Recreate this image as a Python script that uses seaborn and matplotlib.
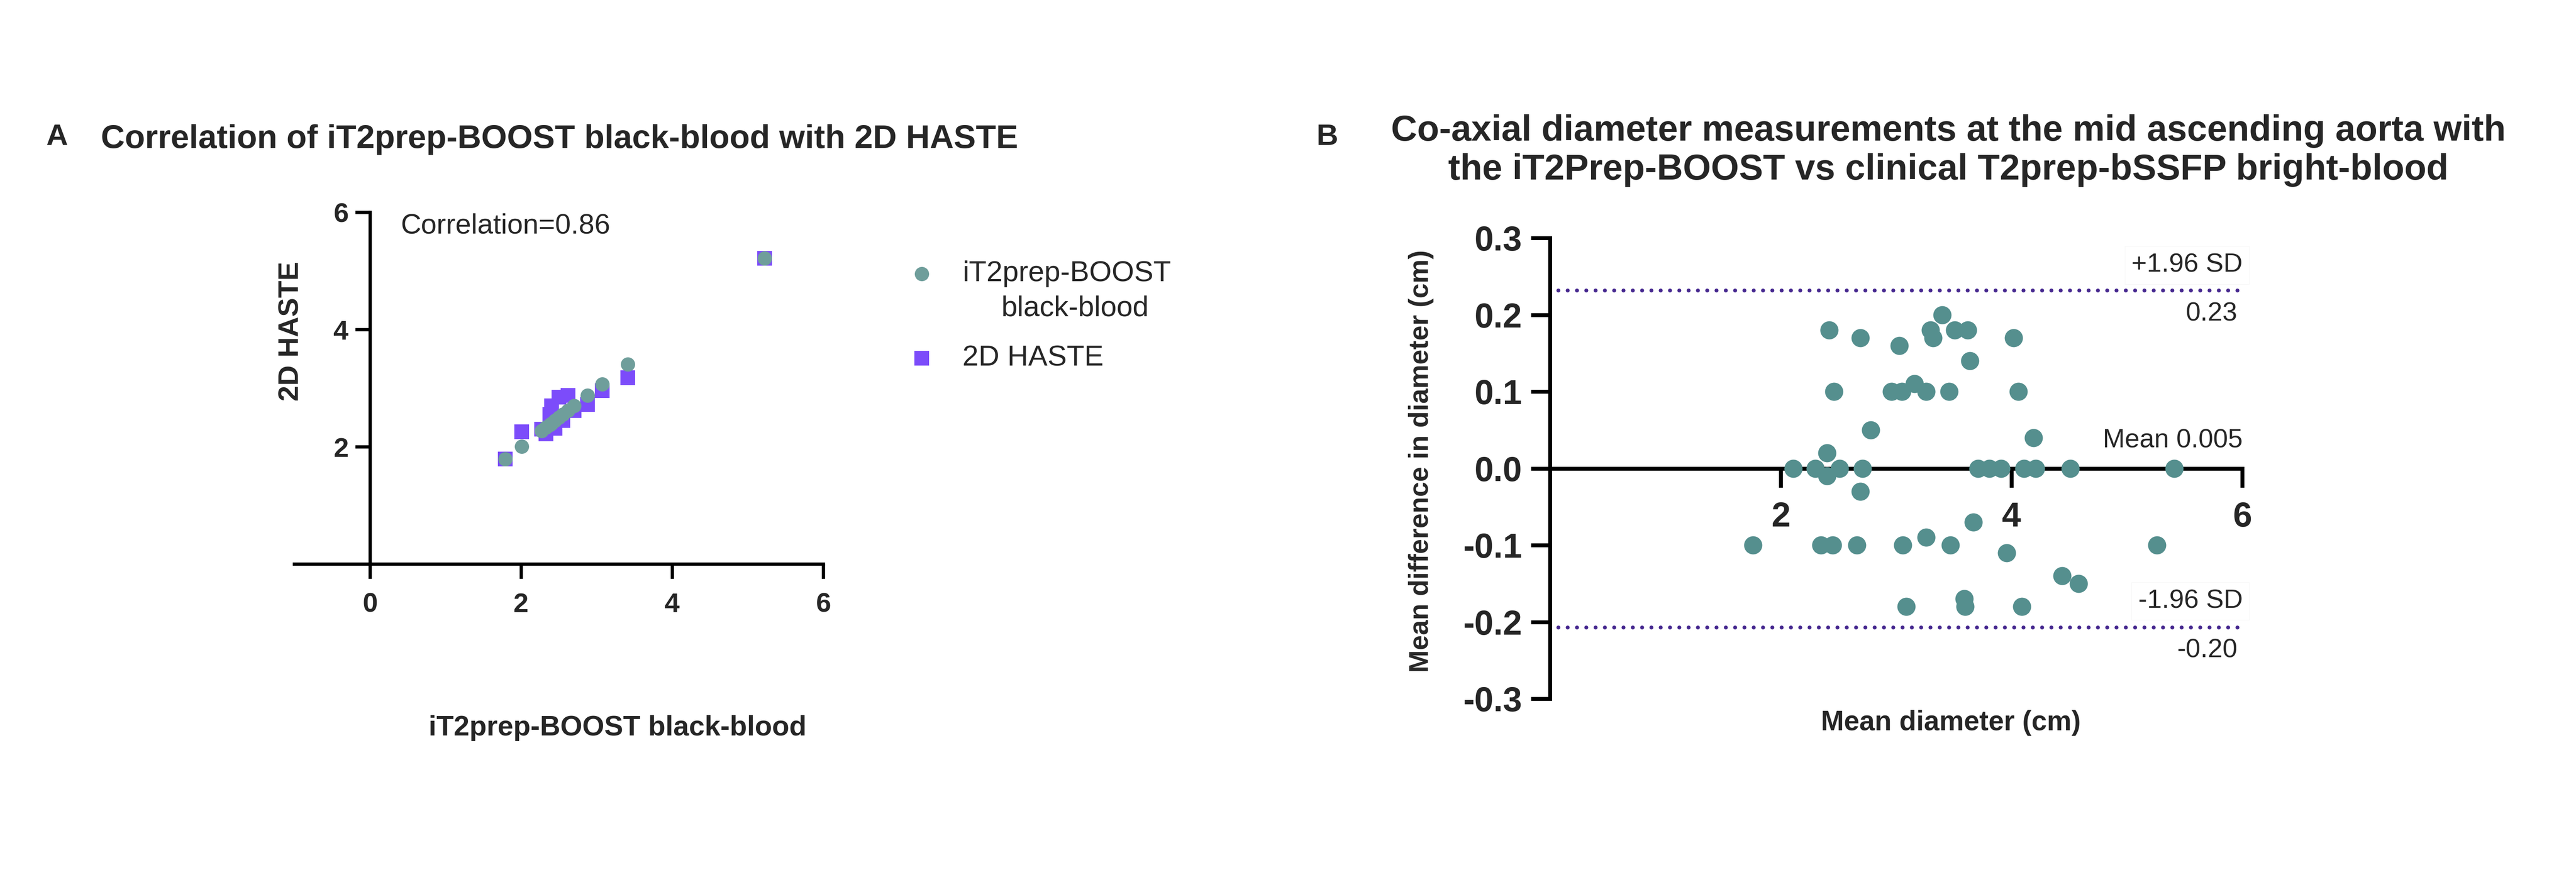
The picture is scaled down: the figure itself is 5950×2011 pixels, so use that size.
import matplotlib
matplotlib.use("Agg")
import matplotlib.pyplot as plt
import seaborn as sns
import pandas as pd

sns.set_style("ticks")
plt.rcParams['font.family'] = ['Liberation Sans', 'DejaVu Sans']
plt.rcParams['axes.unicode_minus'] = False

# ---- panel A data ----
boost = [1.79, 2.01, 2.27, 2.33, 2.38, 2.40, 2.45, 2.50, 2.55, 2.62, 2.70, 2.88, 3.07, 3.41, 5.22]
haste = [1.79, 2.26, 2.30, 2.22, 2.55, 2.70, 2.32, 2.85, 2.45, 2.88, 2.62, 2.72, 2.96, 3.18, 5.22]
corr_text = "Correlation=0.86"

# ---- panel B data ----
mean_diam = [2.42, 2.69, 3.03, 3.30, 3.32, 3.40, 3.51, 3.62, 4.02, 3.64,
             2.46, 2.96, 3.05, 3.16, 3.26, 3.46, 4.06,
             2.78, 4.19, 2.40,
             2.11, 2.30, 2.40, 2.51, 2.71, 3.71, 3.81, 3.91, 4.11, 4.21, 4.51, 5.41,
             2.69, 3.67,
             1.76, 2.35, 2.45, 2.66, 3.06, 3.26, 3.47, 3.96, 5.26,
             4.44, 4.58, 3.59, 3.60, 3.09, 4.09]
diff = [0.18, 0.17, 0.16, 0.18, 0.17, 0.20, 0.18, 0.18, 0.17, 0.14,
        0.10, 0.10, 0.10, 0.11, 0.10, 0.10, 0.10,
        0.05, 0.04, 0.02,
        0.0, 0.0, -0.01, 0.0, 0.0, 0.0, 0.0, 0.0, 0.0, 0.0, 0.0, 0.0,
        -0.03, -0.07,
        -0.10, -0.10, -0.10, -0.10, -0.10, -0.09, -0.10, -0.11, -0.10,
        -0.14, -0.15, -0.17, -0.18, -0.18, -0.18]
upper_loa = 0.232
lower_loa = -0.207
mean_bias = 0.005

teal_a = "#6f9e9b"
purple = "#7c4cfa"
teal_b = "#558f8e"
loa_col = "#46288f"

W, H = 5950, 2011
fig = plt.figure(figsize=(W / 100, H / 100), dpi=100)

def px(x, y):
    return x / W, 1 - y / H

# ================= panel A =================
axA = fig.add_axes([680 / W, 1 - 1304 / H, 1222 / W, 813 / H])
dfA = pd.DataFrame({"boost": boost, "haste": haste})
sns.scatterplot(data=dfA, x="boost", y="haste", marker="s", s=566, color=purple,
                linewidth=0, ax=axA, zorder=3)
sns.scatterplot(data=dfA, x="boost", y="boost", marker="o", s=566, color=teal_a,
                linewidth=0, ax=axA, zorder=4)
axA.set_xlim(-1, 6)
axA.set_ylim(0, 6)
axA.spines['left'].set_position(('data', 0))
axA.spines['right'].set_visible(False)
axA.spines['top'].set_visible(False)
for s in ['left', 'bottom']:
    axA.spines[s].set_linewidth(5.4)
    axA.spines[s].set_color('black')
axA.set_xticks([0, 2, 4, 6])
axA.set_yticks([2, 4, 6])
axA.tick_params(axis='both', length=24.5, width=5.4, labelsize=45, direction='out',
                bottom=True, left=True, color='black')
axA.tick_params(axis='x', pad=22)
axA.tick_params(axis='y', pad=11)
for lab in axA.get_xticklabels() + axA.get_yticklabels():
    lab.set_fontweight('bold')
axA.set_xlabel("iT2prep-BOOST black-blood", fontsize=47, fontweight='bold')
axA.xaxis.set_label_coords(0.6105, -0.466)
axA.xaxis.label.set_va('center')
axA.set_ylabel("2D HASTE", fontsize=47, fontweight='bold')
axA.yaxis.set_label_coords(-0.0065, 0.662)
axA.yaxis.label.set_va('center')
axA.text(0.406, 5.77, corr_text, fontsize=47, ha='left', va='center')

# legend (drawn by hand so the marker sits on the first text line)
axA.scatter([7.30], [4.95], marker="o", s=566, color=teal_a, linewidth=0, clip_on=False)
axA.scatter([7.30], [3.51], marker="s", s=566, color=purple, linewidth=0, clip_on=False)
axA.text(7.84, 4.95, "iT2prep-BOOST", fontsize=48, ha='left', va='center')
axA.text(8.35, 4.36, "black-blood", fontsize=48, ha='left', va='center')
axA.text(7.84, 3.51, "2D HASTE", fontsize=48, ha='left', va='center')

fig.text(*px(106, 317), "A", fontsize=50, fontweight='bold', ha='left', va='center')
fig.text(*px(233, 322), "Correlation of iT2prep-BOOST black-blood with 2D HASTE",
         fontsize=55, fontweight='bold', ha='left', va='center')

# ================= panel B =================
axB = fig.add_axes([3580 / W, 1 - 1615 / H, 1599 / W, 1065 / H])
dfB = pd.DataFrame({"mean": mean_diam, "diff": diff})
sns.scatterplot(data=dfB, x="mean", y="diff", marker="o", s=914, color=teal_b,
                linewidth=0, ax=axB, zorder=4, clip_on=False)
axB.axhline(upper_loa, xmin=0.012, xmax=0.993, color=loa_col, lw=6.5,
            linestyle=(0, (0.01, 2.37)), dash_capstyle='round', zorder=2)
axB.axhline(lower_loa, xmin=0.012, xmax=0.993, color=loa_col, lw=6.5,
            linestyle=(0, (0.01, 2.37)), dash_capstyle='round', zorder=2)
axB.set_xlim(0, 6)
axB.set_ylim(-0.3, 0.3)
axB.spines['bottom'].set_position(('data', 0))
axB.spines['right'].set_visible(False)
axB.spines['top'].set_visible(False)
for s in ['left', 'bottom']:
    axB.spines[s].set_linewidth(6.5)
    axB.spines[s].set_color('black')
axB.set_xticks([2, 4, 6])
yt = [-0.3, -0.2, -0.1, 0.0, 0.1, 0.2, 0.3]
axB.set_yticks(yt)
axB.set_yticklabels([f"{v:.1f}" for v in yt])
axB.tick_params(axis='both', length=32, width=6.5, labelsize=57, direction='out',
                bottom=True, left=True, color='black')
axB.tick_params(axis='x', pad=23)
axB.tick_params(axis='y', pad=14)
for lab in axB.get_xticklabels() + axB.get_yticklabels():
    lab.set_fontweight('bold')
axB.set_xlabel("Mean diameter (cm)", fontsize=46, fontweight='bold')
axB.xaxis.set_label_coords(0.579, -0.0526)
axB.xaxis.label.set_va('center')
axB.set_ylabel("Mean difference in diameter (cm)", fontsize=45, fontweight='bold')
axB.yaxis.set_label_coords(-0.186, 0.516)
axB.yaxis.label.set_va('center')

box = dict(boxstyle='square,pad=0.25', facecolor='white', edgecolor='#f3f3f3', alpha=0.6)
axB.text(6.004, upper_loa + 0.0325, "+1.96 SD", fontsize=44, ha='right', va='center', bbox=box)
axB.text(5.96, upper_loa - 0.031, f"{upper_loa:.2f}", fontsize=44, ha='right', va='center')
axB.text(6.004, mean_bias + 0.031, f"Mean {mean_bias:.3f}", fontsize=44, ha='right', va='center')
axB.text(6.004, lower_loa + 0.034, "-1.96 SD", fontsize=44, ha='right', va='center', bbox=box)
axB.text(5.96, lower_loa - 0.0305, "-0.20", fontsize=44, ha='right', va='center')

fig.text(*px(3040, 317), "B", fontsize=50, fontweight='bold', ha='left', va='center')
fig.text(*px(4500, 348),
         "Co-axial diameter measurements at the mid ascending aorta with\n"
         "the iT2Prep-BOOST vs clinical T2prep-bSSFP bright-blood",
         fontsize=60, fontweight='bold', ha='center', va='center', linespacing=1.2)

fig.savefig("out.png", dpi=100, facecolor='white')
